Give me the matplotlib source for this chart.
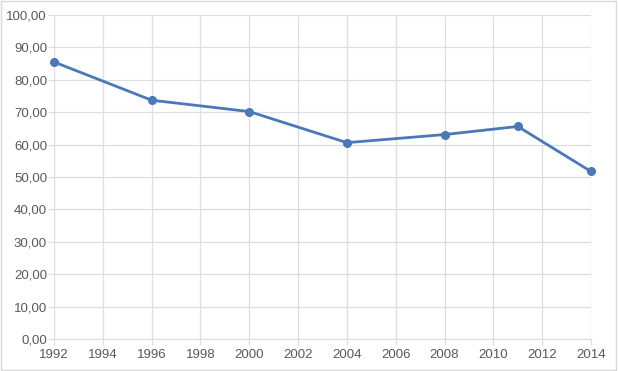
import matplotlib
matplotlib.use("Agg")
import matplotlib.pyplot as plt
from matplotlib import ticker

years = [1992, 1996, 2000, 2004, 2008, 2011, 2014]
values = [85.5, 73.7, 70.2, 60.6, 63.1, 65.6, 51.7]

plt.rcParams['font.family'] = ['Liberation Sans', 'DejaVu Sans']

fig = plt.figure(figsize=(6.18, 3.71), dpi=100)
ax = fig.add_axes([54 / 618, 32 / 371, (591 - 54) / 618, (339 - 15) / 371])

grid_c = '#dedede'
text_c = '#595959'

ax.plot(years, values, color='#4a78b8', linewidth=2, marker='o',
        markersize=5.5, zorder=3, clip_on=False)

ax.set_xlim(1992, 2014)
ax.set_ylim(0, 100)
ax.xaxis.set_major_locator(ticker.MultipleLocator(2))
ax.yaxis.set_major_locator(ticker.MultipleLocator(10))
ax.yaxis.set_major_formatter(
    ticker.FuncFormatter(lambda v, p: f'{v:.2f}'.replace('.', ',')))

ax.grid(True, color=grid_c, linewidth=0.9)
for s in ['top', 'right']:
    ax.spines[s].set_visible(False)
ax.spines['left'].set_color(grid_c)
ax.spines['bottom'].set_color(grid_c)
ax.tick_params(axis='both', colors=grid_c, labelcolor=text_c, labelsize=9.5,
               length=4, width=0.9)
ax.tick_params(axis='x', pad=3)
ax.tick_params(axis='y', pad=1)

# border around the chart area
fig.patches.append(plt.Rectangle((0.002, 0.003), 0.995, 0.993,
                                 transform=fig.transFigure, fill=False,
                                 edgecolor='#d9d9d9', linewidth=1))

fig.savefig('out.png', dpi=100)
